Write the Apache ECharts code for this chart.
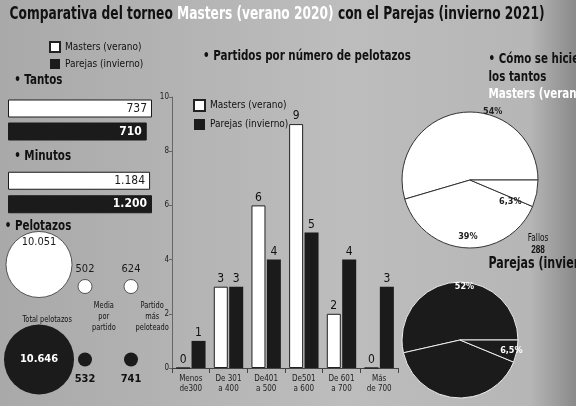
<!DOCTYPE html><html><head><meta charset="utf-8">
<script src="https://cdn.jsdelivr.net/npm/echarts@6/dist/echarts.min.js"></script>
<style>html,body{margin:0;padding:0}#c{width:576px;height:406px}</style></head><body><div id="c"></div>
<script>
const seriesNames=['Masters (verano)','Parejas (invierno)'];
const tantos=[737,710];
const minutos=[1184,1200];
const minutosLabels=['1.184','1.200'];
const binCats=['Menos\nde300','De 301\na 400','De401\na 500','De501\na 600','De 601\na 700','Más\nde 700'];
const mastersBins=[0,3,6,9,2,0];
const parejasBins=[1,3,4,5,4,3];
const yTicks=[0,2,4,6,8,10];
const pelCols=['Total','Media','Partido'];
const pelMasters=[10051,502,624];
const pelParejas=[10646,532,741];
const pelMastersLbl=['10.051','502','624'];
const pelParejasLbl=['10.646','532','741'];
const pieNames=['Tantos hechos','Fallos','Saques'];
const pieMasters=[402,288,47];
const pieParejas=[370,278,43];
const pieMastersPct=['54%','39%','6,3%'];
const pieParejasPct=['52%','41%','6,5%'];

const F="'DejaVu Sans Condensed','Liberation Sans Narrow','Roboto',sans-serif";
const W='#ffffff',B='#1b1b1b';
const ch=echarts.init(document.getElementById('c'));
function hbar(vals,lbls,gi){
 return [0,1].map(i=>({type:'bar',xAxisIndex:gi,yAxisIndex:gi,barWidth:18,
  data:vals.map((v,j)=>j===i?v:'-'),barGap:'-100%',
  itemStyle:{color:i?B:W,borderColor:B,borderWidth:1},
  label:{show:true,position:'insideRight',fontFamily:F,fontSize:12,fontWeight:i?'bold':'normal',color:i?W:B,
   formatter:p=>lbls[p.dataIndex]}}));
}
function t(x,y,text,o){
 o=o||{};
 return {type:'text',x:x,y:y,originX:x,originY:y,scaleX:o.sx||0.82,
  style:Object.assign({text:text,fontFamily:F,fontSize:10,fill:'#111',lineHeight:12,align:o.align||'left'},o.st||{})};
}
const rb={b:{fontWeight:'bold',fontSize:10}};
const opt={
 backgroundColor:new echarts.graphic.LinearGradient(0,0,1,0,[{offset:0,color:'#a9a9a9'},{offset:0.6,color:'#bdbdbd'},{offset:0.92,color:'#b6b6b6'},{offset:1,color:'#8a8a8a'}]),
 textStyle:{fontFamily:F},
 legend:[{orient:'vertical',left:44,top:36,icon:'rect',itemWidth:10,itemHeight:10,itemGap:6,data:seriesNames,textStyle:{fontFamily:F,fontSize:10,color:'#111'}},
  {orient:'vertical',left:188,top:94,icon:'rect',itemWidth:11,itemHeight:11,itemGap:7,data:seriesNames,textStyle:{fontFamily:F,fontSize:10,color:'#111'}}],
 grid:[{left:8,top:97,width:144,height:46},{left:8,top:169,width:144,height:47},
  {left:16,top:250,width:138,height:146},{left:172,top:97,width:226,height:271}],
 xAxis:[{gridIndex:0,type:'value',max:737,show:false},{gridIndex:1,type:'value',max:1200,show:false},
  {gridIndex:2,type:'category',data:pelCols,show:false},
  {gridIndex:3,type:'category',data:binCats,axisLine:{lineStyle:{color:'#444'}},axisTick:{show:true,lineStyle:{color:'#444'}},
   axisLabel:{fontFamily:F,fontSize:8,color:'#222',lineHeight:10,margin:6,interval:0}}],
 yAxis:[{gridIndex:0,type:'category',inverse:true,data:[0,1],show:false},{gridIndex:1,type:'category',inverse:true,data:[0,1],show:false},
  {gridIndex:2,type:'category',inverse:true,data:['M','P'],show:false},
  {gridIndex:3,type:'value',min:0,max:10,interval:2,splitLine:{show:false},axisLine:{show:true,lineStyle:{color:'#666'}},axisTick:{show:true,length:3},
   axisLabel:{fontFamily:F,fontSize:8,color:'#222',margin:3}}],
 series:[...hbar(tantos,['737','710'],0),...hbar(minutos,minutosLabels,1),
  {type:'scatter',xAxisIndex:2,yAxisIndex:2,data:pelMasters.map((v,i)=>[i,0,v]),symbolSize:d=>d[2]>5000?66:14,
   symbolOffset:d=>d[2]>5000?[0,-22]:[0,0],itemStyle:{color:W,borderColor:'#333',borderWidth:0.8,opacity:1},
   label:{show:true,fontFamily:F,fontSize:11,color:B,formatter:p=>pelMastersLbl[p.dataIndex],position:'inside'},
   labelLayout:p=>p.dataIndex>0?{dy:-17}:{dy:-22}},
  {type:'scatter',xAxisIndex:2,yAxisIndex:2,data:pelParejas.map((v,i)=>[i,1,v]),symbolSize:d=>d[2]>5000?70:14,
   itemStyle:{color:B,opacity:1},
   label:{show:true,fontFamily:F,fontSize:11,fontWeight:'bold',formatter:p=>pelParejasLbl[p.dataIndex],position:'inside',
    color:'#111',rich:{}},
   labelLayout:p=>p.dataIndex>0?{dy:20}:{}},
  {type:'bar',name:seriesNames[0],xAxisIndex:3,yAxisIndex:3,data:mastersBins,barWidth:14,barGap:'10%',
   itemStyle:{color:W,borderColor:'#222',borderWidth:1},label:{show:true,position:'top',fontFamily:F,fontSize:12,color:'#111',distance:2}},
  {type:'bar',name:seriesNames[1],xAxisIndex:3,yAxisIndex:3,data:parejasBins,barWidth:14,
   itemStyle:{color:B},label:{show:true,position:'top',fontFamily:F,fontSize:12,color:'#111',distance:2}},
  {type:'pie',center:[470,180],radius:68,startAngle:0,clockwise:false,silent:true,
   data:pieNames.map((n,i)=>({name:n,value:pieMasters[i]})),
   itemStyle:{color:W,borderColor:'#333',borderWidth:1},
   label:{show:true,position:'inside',fontFamily:F,fontSize:9,fontWeight:'bold',color:'#222',formatter:p=>pieMastersPct[p.dataIndex]},
   labelLayout:p=>[{dx:14,dy:-16},{dx:0,dy:10},{dx:2,dy:7}][p.dataIndex]},
  {type:'pie',center:[460,340],radius:58,startAngle:0,clockwise:false,silent:true,
   data:pieNames.map((n,i)=>({name:n,value:pieParejas[i]})),
   itemStyle:{color:B,borderColor:'#eee',borderWidth:1},
   label:{show:true,position:'inside',fontFamily:F,fontSize:9,fontWeight:'bold',color:W,formatter:p=>pieParejasPct[p.dataIndex]},
   labelLayout:p=>[{dx:4,dy:-11},{dx:0,dy:24},{dx:10,dy:2}][p.dataIndex]}
 ],
 graphic:[
  {type:'text',x:8,y:6,originX:8,originY:6,scaleX:0.8,style:{text:'{a|Comparativa del torneo }{b|Masters (verano 2020)}{a| con el Parejas (invierno 2021)}',rich:{a:{fontFamily:F,fontSize:17,fontWeight:'bold',fill:'#111'},b:{fontFamily:F,fontSize:17,fontWeight:'bold',fill:'#fff'}}}},
  t(12,74,'• Tantos',{st:{fontSize:14,fontWeight:'bold'}}),
  t(12,150,'• Minutos',{st:{fontSize:14,fontWeight:'bold'}}),
  t(4,220,'• Pelotazos',{st:{fontSize:14,fontWeight:'bold'}}),
  t(172,50,'• Partidos por número de pelotazos',{st:{fontSize:14,fontWeight:'bold'}}),
  t(414,50,'• Cómo se hicieron\nlos tantos',{st:{fontSize:14,fontWeight:'bold',lineHeight:18}}),
  t(414,88,'Masters (verano)',{st:{fontSize:14,fontWeight:'bold',fill:'#fff'}}),
  t(414,258,'Parejas (invierno)',{st:{fontSize:15,fontWeight:'bold'}}),
  t(527,106,'Tantos\nhechos\n{b|402}',{align:'center',st:{rich:rb}}),
  t(550,173,'Saques\n{b|47}\n(2,35 por\npartido)',{align:'center',st:{lineHeight:11,rich:rb}}),
  t(456,232,'Fallos\n{b|288}',{align:'center',st:{rich:rb}}),
  t(520,278,'Tantos hechos\n{b|370}',{align:'center',st:{rich:rb}}),
  t(550,343,'Saques\n{b|43}\n(2,15 por\npartido)',{align:'center',st:{lineHeight:11,rich:rb}}),
  t(40,314,'Total pelotazos',{align:'center',st:{fontSize:9}}),
  t(88,300,'Media\npor\npartido',{align:'center',st:{fontSize:9,lineHeight:11}}),
  t(129,300,'Partido\nmás\npeloteado',{align:'center',st:{fontSize:9,lineHeight:11}})
 ]
};
ch.setOption(opt);
// big parejas label in white
ch.setOption({series:[{},{},{},{},{},{type:'scatter',data:pelParejas.map((v,i)=>({value:[i,1,v],label:i===0?{color:W}:{color:'#111'}}))}]});
</script></body></html>
